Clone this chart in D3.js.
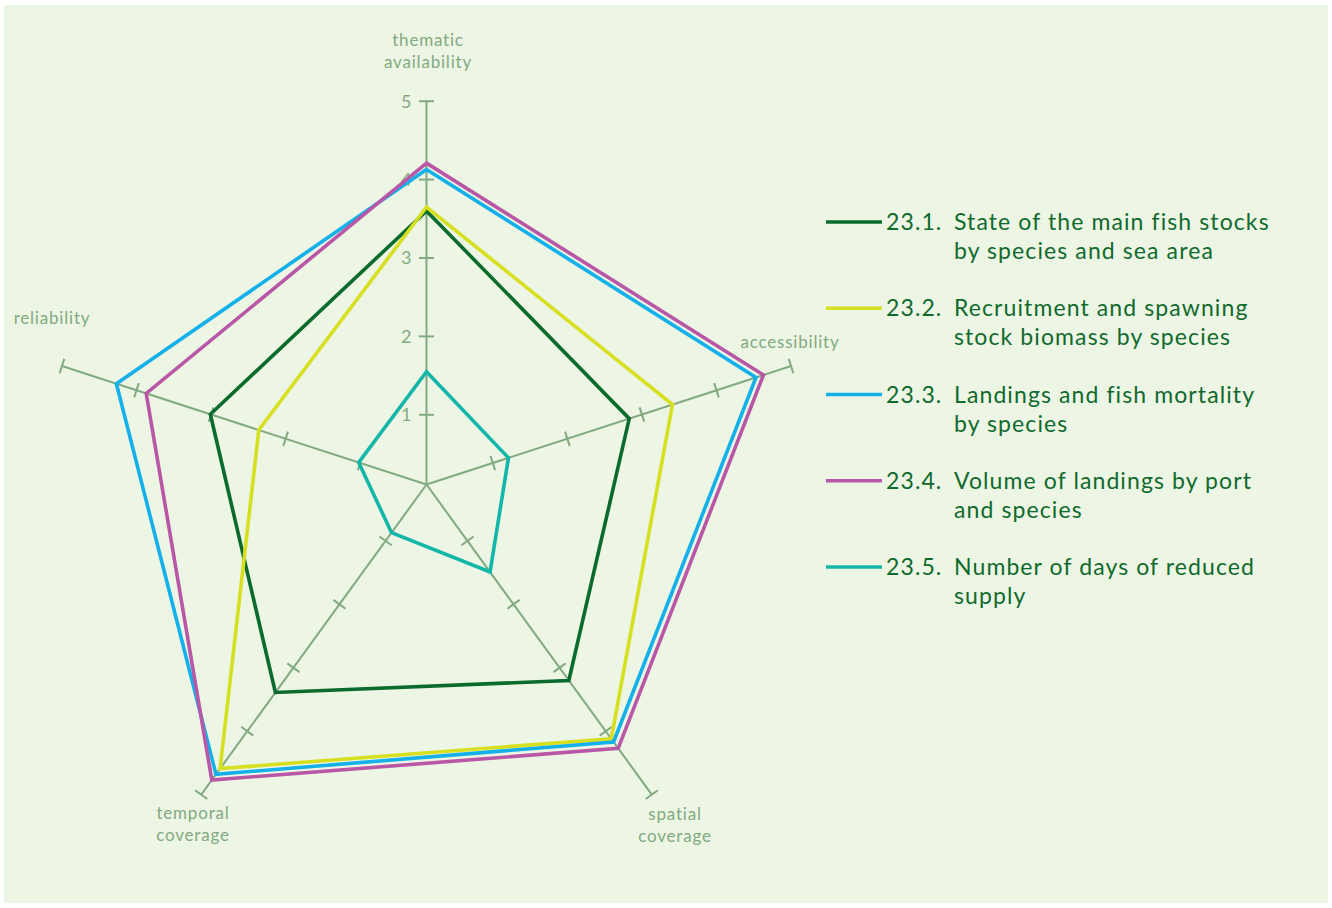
<!DOCTYPE html>
<html>
<head>
<meta charset="utf-8">
<script src="https://cdn.jsdelivr.net/npm/d3@7"></script>
<style>
  html, body { margin: 0; padding: 0; background: #ffffff; }
  svg { display: block; }
  text { font-family: Lato, "Open Sans", sans-serif; }
</style>
</head>
<body>
<svg id="chart" width="1332" height="908"></svg>
<script>
// Radar axes, clockwise from the top
const axisNames = ["thematic availability", "accessibility", "spatial coverage", "temporal coverage", "reliability"];
const axisLabelLines = [["thematic", "availability"], ["accessibility"], ["spatial", "coverage"], ["temporal", "coverage"], ["reliability"]];
const tickValues = [1, 2, 3, 4, 5];
const tickLabels = ["1", "2", "3", "4", "5"];

// Indicator scores per axis (same order as axisNames)
const seriesNames = ["23.1.", "23.2.", "23.3.", "23.4.", "23.5."];
const seriesTitles = [
  ["State of the main fish stocks", "by species and sea area"],
  ["Recruitment and spawning", "stock biomass by species"],
  ["Landings and fish mortality", "by species"],
  ["Volume of landings by port", "and species"],
  ["Number of days of reduced", "supply"]
];
const s231 = [3.60, 2.83, 3.20, 3.39, 3.01];
const s232 = [3.65, 3.41, 4.12, 4.59, 2.36];
const s233 = [4.13, 4.53, 4.17, 4.68, 4.27];
const s234 = [4.21, 4.63, 4.27, 4.77, 3.87];
const s235 = [1.55, 1.21, 1.49, 0.87, 1.02];
const seriesValues = [s231, s232, s233, s234, s235];
const seriesColors = ["#0b6b2c", "#d6e021", "#14b0ea", "#b857a6", "#12b7a9"];

const svg = d3.select("#chart");
const W = 1332, H = 908;

// page panel
svg.append("rect").attr("x", 4).attr("y", 5).attr("width", W - 8).attr("height", H - 10)
  .attr("fill", "#edf5e4");

const cx = 426.5, cy = 484.5;
const r = d3.scaleLinear().domain([0, 5]).range([-8.7, 383.3]);
const angle = d3.scaleLinear().domain([0, axisNames.length]).range([0, 2 * Math.PI]);
const pt = (i, v) => {
  const a = angle(i) - Math.PI / 2;
  return [cx + r(v) * Math.cos(a), cy + r(v) * Math.sin(a)];
};

const axisColor = "#82aa80";
const g = svg.append("g");

// axis spokes
axisNames.forEach((name, i) => {
  const a = angle(i) - Math.PI / 2;
  const end = pt(i, 5);
  g.append("line").attr("x1", cx).attr("y1", cy).attr("x2", end[0]).attr("y2", end[1])
    .attr("stroke", axisColor).attr("stroke-width", 2);
  // cross ticks
  tickValues.forEach(v => {
    const p = pt(i, v);
    const px = -Math.sin(a) * 7.5, py = Math.cos(a) * 7.5;
    g.append("line").attr("x1", p[0] - px).attr("y1", p[1] - py)
      .attr("x2", p[0] + px).attr("y2", p[1] + py)
      .attr("stroke", axisColor).attr("stroke-width", 2);
  });
});

// tick labels along the vertical axis
tickValues.forEach((v, k) => {
  const p = pt(0, v);
  g.append("text").attr("x", p[0] - 15).attr("y", p[1]).attr("dy", "0.36em")
    .attr("text-anchor", "end").attr("font-size", 18).attr("fill", axisColor)
    .text(tickLabels[k]);
});

// axis labels
const labelPos = [
  { x: 428, y: 46, anchor: "middle" },
  { x: 790, y: 348, anchor: "middle" },
  { x: 675, y: 820, anchor: "middle" },
  { x: 193, y: 819, anchor: "middle" },
  { x: 52, y: 324, anchor: "middle" }
];
axisLabelLines.forEach((lines, i) => {
  const t = g.append("text").attr("text-anchor", labelPos[i].anchor)
    .attr("font-size", 17).attr("letter-spacing", 0.8).attr("fill", axisColor);
  lines.forEach((ln, j) => {
    t.append("tspan").attr("x", labelPos[i].x).attr("y", labelPos[i].y + j * 22).text(ln);
  });
});

// series polygons
const line = d3.line().curve(d3.curveLinearClosed);
seriesValues.forEach((vals, s) => {
  g.append("path")
    .attr("d", line(vals.map((v, i) => pt(i, v))))
    .attr("fill", "none").attr("stroke", seriesColors[s])
    .attr("stroke-width", 3.6).attr("stroke-linejoin", "miter");
});

// legend
const legendY = d3.scaleLinear().domain([0, 4]).range([222, 567]);
const legendText = "#0f6a2c";
seriesNames.forEach((nm, s) => {
  const y = legendY(s);
  svg.append("line").attr("x1", 826).attr("x2", 882).attr("y1", y).attr("y2", y)
    .attr("stroke", seriesColors[s]).attr("stroke-width", 3.6);
  svg.append("text").attr("x", 886).attr("y", y + 8).attr("font-size", 23)
    .attr("letter-spacing", 1.1).attr("fill", legendText).text(nm);
  const t = svg.append("text").attr("font-size", 23).attr("letter-spacing", 1.1)
    .attr("fill", legendText);
  seriesTitles[s].forEach((ln, j) => {
    t.append("tspan").attr("x", 954).attr("y", y + 8 + j * 29).text(ln);
  });
});
</script>
</body>
</html>
